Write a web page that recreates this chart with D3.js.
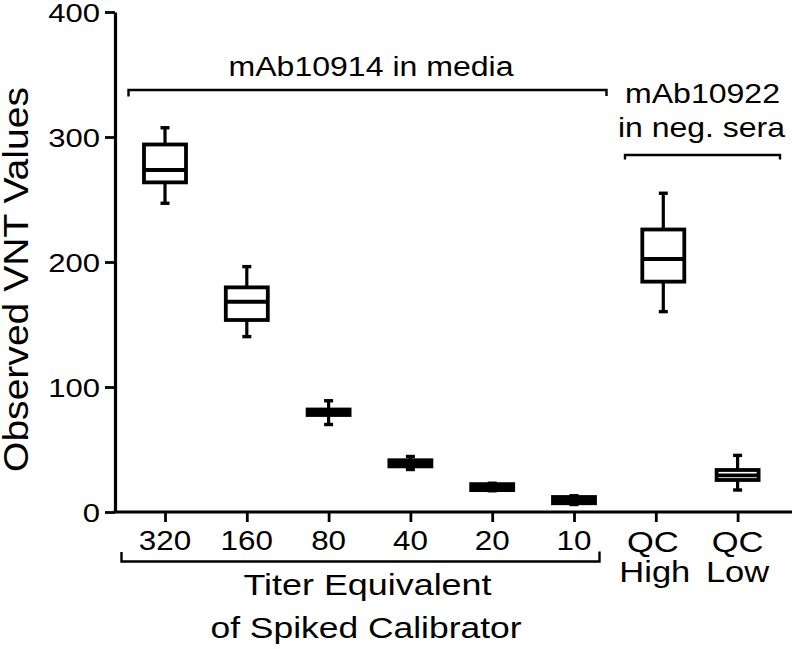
<!DOCTYPE html>
<html>
<head>
<meta charset="utf-8">
<script src="https://cdn.jsdelivr.net/npm/d3@7"></script>
<style>
  html, body { margin: 0; padding: 0; background: #fff; }
  svg { display: block; }
  text { font-family: "Liberation Sans", Arial, Helvetica, sans-serif; fill: #000; }
</style>
</head>
<body>
<svg id="chart" width="792" height="649"></svg>
<script>
// ---- data ----
const categories   = ["320", "160", "80", "40", "20", "10", "QC High", "QC Low"];
const tickLines    = [["320"], ["160"], ["80"], ["40"], ["20"], ["10"], ["QC", "High"], ["QC", "Low"]];
const whiskerLow   = [247.0, 140.3, 70.0, 34.0, 17.0, 6.0, 160.3, 17.6];
const q1           = [263.7, 153.6, 77.6, 36.5, 17.5, 7.0, 184.3, 25.6];
const median       = [273.6, 168.2, 80.0, 39.0, 20.0, 9.5, 202.4, 29.3];
const q3           = [294.0, 179.7, 82.0, 41.4, 22.3, 12.0, 226.0, 33.6];
const whiskerHigh  = [307.4, 196.3, 89.0, 44.4, 23.0, 13.0, 255.0, 45.3];
const yTickValues  = [0, 100, 200, 300, 400];
const yTitle       = "Observed VNT Values";
const groupTop1    = "mAb10914 in media";
const groupTop2    = ["mAb10922", "in neg. sera"];
const groupBottom  = ["Titer Equivalent", "of Spiked Calibrator"];

const rows = categories.map((c, i) => ({
  cat: c, lo: whiskerLow[i], q1: q1[i], med: median[i], q3: q3[i], hi: whiskerHigh[i], lines: tickLines[i]
}));

const svg = d3.select("#chart");
svg.append("rect").attr("width", 792).attr("height", 649).attr("fill", "#fff");

const y = d3.scaleLinear().domain([0, 400]).range([512, 12]);
const x = d3.scalePoint().domain(categories).range([165, 737.6]);

function stretch(sel, k) {
  sel.each(function () {
    const w = this.getComputedTextLength();
    this.setAttribute("textLength", w * k);
    this.setAttribute("lengthAdjust", "spacingAndGlyphs");
  });
}
function fitTo(sel, len) {
  sel.attr("textLength", len).attr("lengthAdjust", "spacingAndGlyphs");
}

// ---- y axis ----
const yAxis = d3.axisLeft(y).tickValues(yTickValues).tickSize(10).tickSizeOuter(0).tickPadding(5);
const gy = svg.append("g").attr("transform", "translate(115,0)").call(yAxis);
gy.select(".domain").attr("stroke", "#000").attr("stroke-width", 3.2);
gy.selectAll(".tick line").attr("stroke", "#000").attr("stroke-width", 2.8);
gy.selectAll(".tick text").attr("font-size", 26.5).attr("fill", "#000")
  .attr("font-family", '"Liberation Sans", Arial, sans-serif').attr("dy", "0.34em");
stretch(gy.selectAll(".tick text"), 1.17);

// ---- x axis ----
const xAxis = d3.axisBottom(x).tickSize(10).tickSizeOuter(0).tickFormat("");
const gx = svg.append("g").attr("transform", "translate(0,512)").call(xAxis);
gx.select(".domain").remove();
gx.selectAll(".tick line").attr("stroke", "#000").attr("stroke-width", 2.8);
svg.append("line").attr("x1", 113.5).attr("x2", 792).attr("y1", 512).attr("y2", 512)
  .attr("stroke", "#000").attr("stroke-width", 3.2);

// x tick labels
rows.forEach(r => {
  const isQC = r.lines.length > 1;
  r.lines.forEach((ln, j) => {
    const t = svg.append("text")
      .attr("x", x(r.cat) - (r.cat === "QC High" ? (j === 0 ? 3 : 1) : 0))
      .attr("y", isQC ? (j === 0 ? 552 : 582) : 550)
      .attr("text-anchor", "middle")
      .attr("font-size", isQC ? 29.5 : 28)
      .text(ln);
    stretch(t, isQC ? 1.17 : 1.12);
  });
});

// ---- boxes ----
const boxW = 42, capW = 9;
const bx = r => x(r.cat) + (r.cat === "QC High" ? 7.5 : 0);
const g = svg.append("g").attr("stroke", "#000").attr("fill", "none");
const bg = g.selectAll("g.box").data(rows).join("g").attr("class", "box");
// whiskers
bg.append("line").attr("x1", bx).attr("x2", bx).attr("y1", d => y(d.hi)).attr("y2", d => y(d.q3)).attr("stroke-width", 3.2);
bg.append("line").attr("x1", bx).attr("x2", bx).attr("y1", d => y(d.q1)).attr("y2", d => y(d.lo)).attr("stroke-width", 3.2);
// caps
bg.append("line").attr("x1", d => bx(d) - capW / 2).attr("x2", d => bx(d) + capW / 2)
  .attr("y1", d => y(d.hi)).attr("y2", d => y(d.hi)).attr("stroke-width", 3.4);
bg.append("line").attr("x1", d => bx(d) - capW / 2).attr("x2", d => bx(d) + capW / 2)
  .attr("y1", d => y(d.lo)).attr("y2", d => y(d.lo)).attr("stroke-width", 3.4);
// box
bg.append("rect").attr("x", d => bx(d) - boxW / 2).attr("width", boxW)
  .attr("y", d => y(d.q3)).attr("height", d => y(d.q1) - y(d.q3))
  .attr("fill", "#fff").attr("stroke-width", 3.8);
// median
bg.append("line").attr("x1", d => bx(d) - boxW / 2).attr("x2", d => bx(d) + boxW / 2)
  .attr("y1", d => y(d.med)).attr("y2", d => y(d.med)).attr("stroke-width", 3.8);

// ---- brackets and group labels ----
const br = svg.append("g").attr("stroke", "#000").attr("fill", "none").attr("stroke-width", 2.4);
br.append("path").attr("d", "M128.5,96.5 V90 H606.5 V96");
br.append("path").attr("d", "M625,159.5 V155 H780 V159.5");
br.append("path").attr("d", "M121.5,552 V561.5 H599.5 V551.5");

const t1 = svg.append("text").attr("x", 371).attr("y", 75.5).attr("text-anchor", "middle")
  .attr("font-size", 27).text(groupTop1);
fitTo(t1, 285);
const t2a = svg.append("text").attr("x", 702.5).attr("y", 103.3).attr("text-anchor", "middle")
  .attr("font-size", 28).text(groupTop2[0]);
fitTo(t2a, 155);
const t2b = svg.append("text").attr("x", 701.5).attr("y", 136.5).attr("text-anchor", "middle")
  .attr("font-size", 28).text(groupTop2[1]);
fitTo(t2b, 167);

const b1 = svg.append("text").attr("x", 367.5).attr("y", 595).attr("text-anchor", "middle")
  .attr("font-size", 30).text(groupBottom[0]);
fitTo(b1, 248);
const b2 = svg.append("text").attr("x", 366).attr("y", 638).attr("text-anchor", "middle")
  .attr("font-size", 30).text(groupBottom[1]);
fitTo(b2, 311);

// ---- y title ----
const yt = svg.append("text").attr("transform", "translate(28,279.5) rotate(-90)")
  .attr("text-anchor", "middle").attr("font-size", 35).text(yTitle);
fitTo(yt, 385);
</script>
</body>
</html>
